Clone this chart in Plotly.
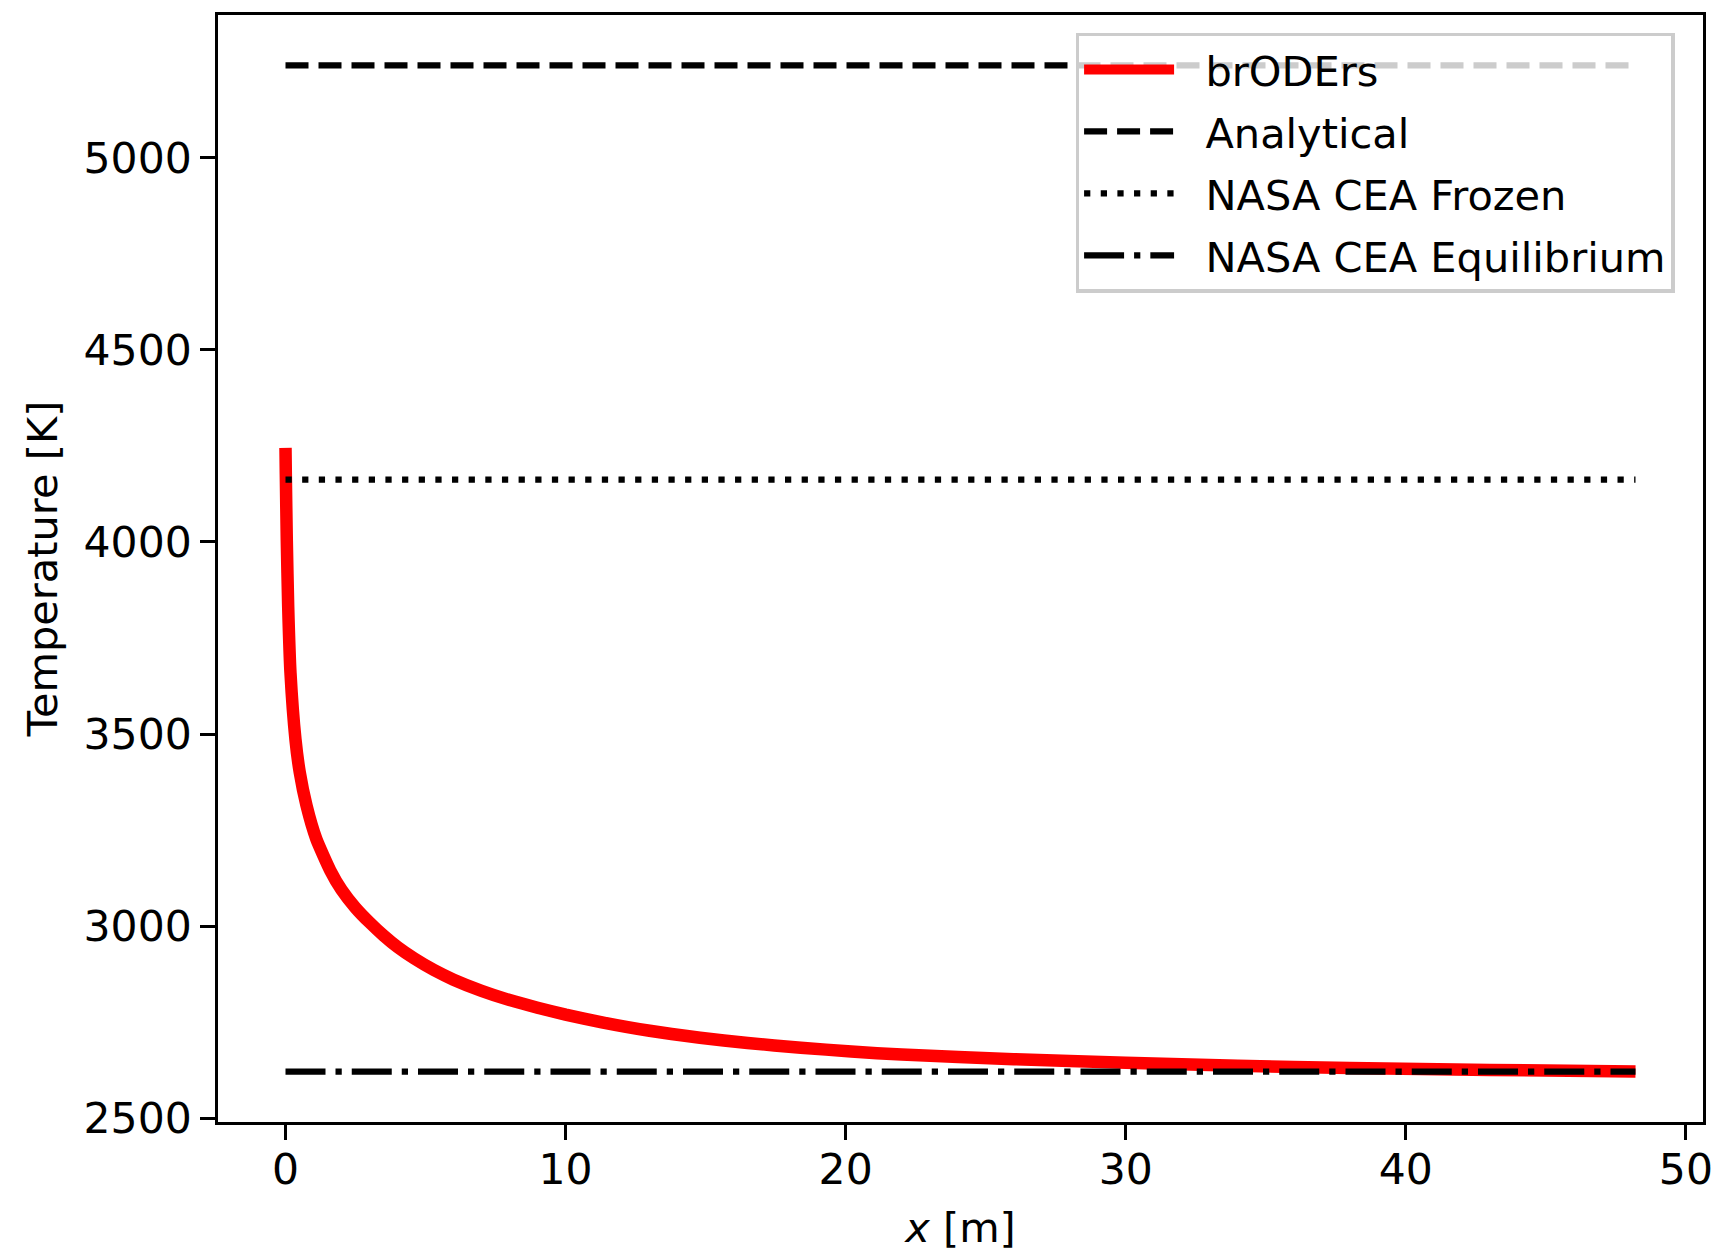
import plotly.graph_objects as go

# brODErs temperature profile
x_broders = [0, 0.011, 0.046, 0.096, 0.178, 0.356, 0.51, 0.75, 1.10, 1.6, 2.0, 2.5,
             3.0, 3.5, 4.0, 4.6, 5.3, 6.0, 7.0, 8.0, 9.0, 10.0, 11.3, 13.0, 14.8,
             16.5, 18.4, 20.2, 22.0, 26.0, 30.0, 34.0, 38.0, 43.0, 48.2]
T_broders = [4245, 4178, 4005, 3832, 3659, 3486, 3400, 3314, 3227, 3145, 3095, 3048,
             3010, 2976, 2946, 2916, 2886, 2861, 2832, 2808, 2788, 2770, 2750, 2728, 2710,
             2696, 2684, 2674, 2666, 2654, 2645, 2637, 2631, 2626, 2622]

# reference levels
x_ref = [0, 48.2]
T_analytical = [5240.5, 5240.5]
T_cea_frozen = [4162, 4162]
T_cea_equilibrium = [2621.6, 2621.6]

x_ticks = [0, 10, 20, 30, 40, 50]
y_ticks = [2500, 3000, 3500, 4000, 4500, 5000]

FONT = "DejaVu Sans"
FS = 41.5
TICK_FS = 42.5
GAP = "\u00a0\u00a0"

fig = go.Figure()
fig.add_trace(go.Scatter(x=x_broders, y=T_broders, mode="lines", name=GAP + "brODErs",
                         legendgroup="a",
                         line=dict(color="#ff0000", width=12.5, shape="spline", smoothing=0.5)))
fig.add_trace(go.Scatter(x=x_ref, y=T_analytical, mode="lines", name=GAP + "Analytical",
                         legendgroup="b",
                         line=dict(color="black", width=6.25, dash="23px,10px")))
fig.add_trace(go.Scatter(x=x_ref, y=T_cea_frozen, mode="lines", name=GAP + "NASA CEA Frozen",
                         legendgroup="c",
                         line=dict(color="black", width=6.25, dash="6.25px,10.4px")))
fig.add_trace(go.Scatter(x=x_ref, y=T_cea_equilibrium, mode="lines",
                         name=GAP + "NASA CEA Equilibrium", legendgroup="d",
                         line=dict(color="black", width=6.25, dash="40px,10px,6.25px,10px")))

axis_common = dict(
    showline=True, mirror=True, linecolor="black", linewidth=3.3,
    ticks="outside", ticklen=14.6, tickwidth=3.3, tickcolor="black",
    showgrid=False, zeroline=False,
    tickfont=dict(family=FONT, size=TICK_FS, color="black"),
)

fig.update_layout(
    width=1718, height=1252,
    margin=dict(l=218, r=15, t=15, b=130, autoexpand=False),
    paper_bgcolor="white", plot_bgcolor="white",
    font=dict(family=FONT, size=FS, color="black"),
    xaxis=dict(range=[-2.41, 50.61], tickvals=x_ticks,
               title=dict(text="<i>x</i> [m]", font=dict(family=FONT, size=FS), standoff=21),
               ticklabelstandoff=-7, **axis_common),
    yaxis=dict(range=[2490.6, 5371.4], tickvals=y_ticks,
               title=dict(text="Temperature [K]", font=dict(family=FONT, size=FS), standoff=14),
               ticklabelstandoff=0, **axis_common),
    legend=dict(x=0.981, y=0.984, xanchor="right", yanchor="top",
                bgcolor="rgba(255,255,255,0.8)", bordercolor="#cccccc", borderwidth=3.3,
                font=dict(family=FONT, size=FS, color="black"), itemwidth=90,
                tracegroupgap=5),
    showlegend=True,
)

fig.write_html("out.html")
